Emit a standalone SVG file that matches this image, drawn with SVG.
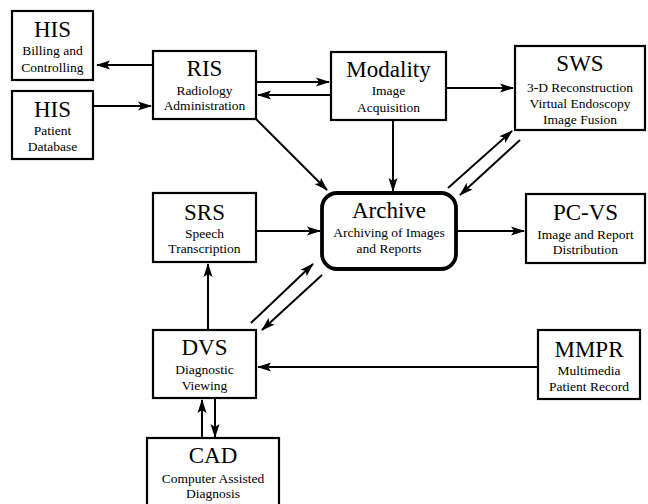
<svg xmlns="http://www.w3.org/2000/svg" width="648" height="504" viewBox="0 0 648 504">
<style>
.box{fill:#fff;stroke:#000;stroke-width:2.2}
.arch{fill:#fff;stroke:#000;stroke-width:3.8}
.t{font-family:"Liberation Serif","Times New Roman",serif;font-size:23px;text-anchor:middle;fill:#000}
.s{font-family:"Liberation Serif","Times New Roman",serif;font-size:13.5px;text-anchor:middle;fill:#000}
.c{stroke:#000;stroke-width:2;fill:none;marker-end:url(#ah)}
</style>
<defs>
<marker id="ah" markerUnits="userSpaceOnUse" markerWidth="14" markerHeight="10" viewBox="0 0 14 10" refX="13" refY="5" orient="auto">
<path d="M0,0.5 L14,5 L0,9.5 L3,5 Z" fill="#000"/>
</marker>
</defs>
<rect width="648" height="504" fill="#fff"/>
<g id="connectors">
<line class="c" x1="153" y1="65" x2="97" y2="65"/>
<line class="c" x1="93" y1="106" x2="151" y2="106"/>
<line class="c" x1="256" y1="82" x2="329" y2="82"/>
<line class="c" x1="331" y1="95" x2="258" y2="95"/>
<line class="c" x1="446" y1="88" x2="513" y2="88"/>
<line class="c" x1="393" y1="120" x2="393" y2="191"/>
<line class="c" x1="256" y1="119" x2="327" y2="190"/>
<line class="c" x1="448" y1="188" x2="512" y2="131"/>
<line class="c" x1="520" y1="140" x2="460" y2="195"/>
<line class="c" x1="457" y1="231" x2="524" y2="231"/>
<line class="c" x1="256" y1="231" x2="320" y2="231"/>
<line class="c" x1="208" y1="330" x2="208" y2="264"/>
<line class="c" x1="251" y1="323" x2="313" y2="264"/>
<line class="c" x1="322" y1="275" x2="262" y2="330"/>
<line class="c" x1="538" y1="367" x2="258" y2="367"/>
<line class="c" x1="202" y1="438" x2="202" y2="400"/>
<line class="c" x1="215" y1="398" x2="215" y2="437"/>
</g>
<g id="his-billing">
<rect class="box" x="12" y="11" width="81" height="69"/>
<text class="t" x="52.5" y="37">HIS</text>
<text class="s" x="52.5" y="55">Billing and</text>
<text class="s" x="52.5" y="72">Controlling</text>
</g>
<g id="his-patient">
<rect class="box" x="12" y="91" width="81" height="68"/>
<text class="t" x="52.5" y="117">HIS</text>
<text class="s" x="52.5" y="135">Patient</text>
<text class="s" x="52.5" y="151">Database</text>
</g>
<g id="ris">
<rect class="box" x="153" y="51" width="103" height="68"/>
<text class="t" x="204.5" y="76">RIS</text>
<text class="s" x="204.5" y="95">Radiology</text>
<text class="s" x="204.5" y="110">Administration</text>
</g>
<g id="modality">
<rect class="box" x="331" y="52" width="115" height="68"/>
<text class="t" x="388.5" y="77">Modality</text>
<text class="s" x="388.5" y="95">Image</text>
<text class="s" x="388.5" y="112">Acquisition</text>
</g>
<g id="sws">
<rect class="box" x="515" y="46" width="130" height="84"/>
<text class="t" x="580" y="71">SWS</text>
<text class="s" x="580" y="92">3-D Reconstruction</text>
<text class="s" x="580" y="108">Virtual Endoscopy</text>
<text class="s" x="580" y="124">Image Fusion</text>
</g>
<g id="archive">
<rect class="arch" x="322" y="193" width="134" height="76" rx="15" ry="15"/>
<text class="t" x="389" y="218">Archive</text>
<text class="s" x="389" y="237">Archiving of Images</text>
<text class="s" x="389" y="253">and Reports</text>
</g>
<g id="pcvs">
<rect class="box" x="526" y="194" width="119" height="69"/>
<text class="t" x="585.5" y="220">PC-VS</text>
<text class="s" x="585.5" y="239">Image and Report</text>
<text class="s" x="585.5" y="254">Distribution</text>
</g>
<g id="srs">
<rect class="box" x="153" y="193" width="103" height="69"/>
<text class="t" x="204.5" y="220">SRS</text>
<text class="s" x="204.5" y="238">Speech</text>
<text class="s" x="204.5" y="253">Transcription</text>
</g>
<g id="dvs">
<rect class="box" x="153" y="330" width="103" height="68"/>
<text class="t" x="204.5" y="355">DVS</text>
<text class="s" x="204.5" y="374">Diagnostic</text>
<text class="s" x="204.5" y="390">Viewing</text>
</g>
<g id="mmpr">
<rect class="box" x="538" y="330" width="102" height="69"/>
<text class="t" x="589" y="357">MMPR</text>
<text class="s" x="589" y="375">Multimedia</text>
<text class="s" x="589" y="391">Patient Record</text>
</g>
<g id="cad">
<rect class="box" x="147" y="438" width="132" height="72"/>
<text class="t" x="213" y="463">CAD</text>
<text class="s" x="213" y="483">Computer Assisted</text>
<text class="s" x="213" y="498">Diagnosis</text>
</g>
</svg>
